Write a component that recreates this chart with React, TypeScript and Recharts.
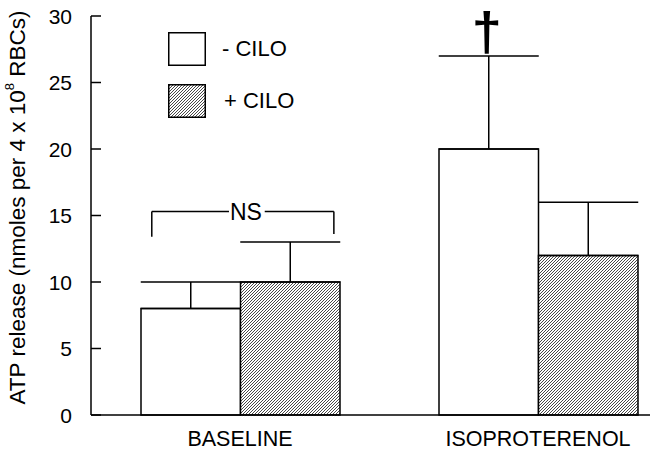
import React from 'react';
import { BarChart, Bar, XAxis, YAxis, ErrorBar, Legend, ReferenceLine, ReferenceDot } from 'recharts';

const categories = ['BASELINE', 'ISOPROTERENOL'];
const seriesNames = ['- CILO', '+ CILO'];
const minusCilo = [8, 20];
const plusCilo = [10, 12];
const minusCiloErr = [2, 7];
const plusCiloErr = [3, 4];
const yTicks = [0, 5, 10, 15, 20, 25, 30];

// annotation positions: x as a fraction of the plot width (hidden numeric axis 0..1), y in data units
const nsBracket = { x1: 0.102, x2: 0.4075, gapL: 0.2315, gapR: 0.2915, y: 15.3, yDropL: 13.4, yDropR: 13.6, textX: 0.26 };
const dagger = { x: 0.664, y: 28.9 };

const FONT = '"Liberation Sans", Arial, sans-serif';

const data = categories.map((c, i) => ({
  name: c,
  minus: minusCilo[i],
  plus: plusCilo[i],
  minusErr: [0, minusCiloErr[i]],
  plusErr: [0, plusCiloErr[i]],
}));

const YTick = (props: any) => {
  const { x, y, payload } = props;
  return (
    <g>
      <line x1={x} y1={y} x2={x + 10} y2={y} stroke="#000" strokeWidth={1.5} />
      <text x={x - 19} y={y} textAnchor="end" dominantBaseline="central" fontSize={21} fontFamily={FONT} fill="#000">
        {payload.value}
      </text>
    </g>
  );
};

const YLabel = (props: any) => {
  const vb = props.viewBox || { x: 0, y: 16, width: 91, height: 399 };
  const cx = 17;
  const cy = vb.y + vb.height / 2 - 8;
  return (
    <text x={cx} y={cy} transform={`rotate(-90, ${cx}, ${cy})`} textAnchor="middle" dominantBaseline="central" fontSize={22.5} fontFamily={FONT} fill="#000">
      ATP release (nmoles per 4 x 10<tspan dy={-8} fontSize={13}>8</tspan>
      <tspan dy={8}> RBCs)</tspan>
    </text>
  );
};

const LegendContent = () => (
  <div style={{ fontFamily: FONT, fontSize: 22, color: '#000' }}>
    {seriesNames.map((n, i) => (
      <div key={n} style={{ display: 'flex', alignItems: 'center', height: 34, marginBottom: i === 0 ? 18 : 0 }}>
        <svg width={38} height={34} style={{ display: 'block' }}>
          <rect x={0.75} y={0.75} width={36.5} height={32.5} fill={i === 0 ? '#fff' : 'url(#hatch)'} stroke="#000" strokeWidth={1.5} />
        </svg>
        <span style={{ marginLeft: 16 + i * 2 }}>{n}</span>
      </div>
    ))}
  </div>
);

export default function App() {
  return (
    <div style={{ position: 'absolute', left: 0, top: 0, width: 654, height: 455, background: '#fff' }}>
      <div style={{ position: 'absolute', left: 0, top: 0, width: 650, height: 455, overflow: 'hidden' }}>
        <BarChart width={700} height={455} data={data} margin={{ top: 16, right: 13, left: 0, bottom: 0 }} barGap={0}>
          <defs>
            <pattern id="hatch" patternUnits="userSpaceOnUse" width="3" height="3">
              <rect width="3" height="3" fill="#fff" />
              <path d="M-0.75,0.75 L0.75,-0.75 M0,3 L3,0 M2.25,3.75 L3.75,2.25" stroke="#333" strokeWidth="0.9" />
            </pattern>
          </defs>
          <XAxis
            dataKey="name"
            height={40}
            axisLine={{ stroke: '#000', strokeWidth: 1.5 }}
            tickLine={false}
            tickSize={0}
            tickMargin={16}
            tick={{ fill: '#000', fontSize: 21.5, fontFamily: FONT }}
          />
          <XAxis xAxisId="num" type="number" domain={[0, 1]} allowDataOverflow hide />
          <YAxis
            domain={[0, 30]}
            ticks={yTicks}
            width={91}
            tickLine={false}
            tickSize={0}
            tickMargin={0}
            tick={<YTick />}
            axisLine={{ stroke: '#000', strokeWidth: 1.5 }}
            label={<YLabel />}
          />
          <Legend
            content={<LegendContent />}
            layout="vertical"
            align="center"
            verticalAlign="middle"
            wrapperStyle={{ position: 'absolute', left: 168, top: 32, width: 'auto' }}
          />
          <Bar dataKey="minus" name={seriesNames[0]} fill="#fff" stroke="#000" strokeWidth={1.5} barSize={99.5} isAnimationActive={false}>
            <ErrorBar dataKey="minusErr" width={50} stroke="#000" strokeWidth={1.5} direction="y" />
          </Bar>
          <Bar dataKey="plus" name={seriesNames[1]} fill="url(#hatch)" stroke="#000" strokeWidth={1.5} barSize={99.5} isAnimationActive={false}>
            <ErrorBar dataKey="plusErr" width={50} stroke="#000" strokeWidth={1.5} direction="y" />
          </Bar>
          <ReferenceLine xAxisId="num" segment={[{ x: nsBracket.x1, y: nsBracket.y }, { x: nsBracket.gapL, y: nsBracket.y }]} stroke="#000" strokeWidth={1.5} />
          <ReferenceLine xAxisId="num" segment={[{ x: nsBracket.gapR, y: nsBracket.y }, { x: nsBracket.x2, y: nsBracket.y }]} stroke="#000" strokeWidth={1.5} />
          <ReferenceLine xAxisId="num" segment={[{ x: nsBracket.x1, y: nsBracket.y }, { x: nsBracket.x1, y: nsBracket.yDropL }]} stroke="#000" strokeWidth={1.5} />
          <ReferenceLine xAxisId="num" segment={[{ x: nsBracket.x2, y: nsBracket.y }, { x: nsBracket.x2, y: nsBracket.yDropR }]} stroke="#000" strokeWidth={1.5} />
          <ReferenceDot
            xAxisId="num"
            x={nsBracket.textX}
            y={nsBracket.y}
            r={0}
            shape={(p: any) => (
              <text x={p.cx} y={p.cy} textAnchor="middle" dominantBaseline="central" fontSize={23} fontFamily={FONT} fill="#000">NS</text>
            )}
          />
          <ReferenceDot
            xAxisId="num"
            x={dagger.x}
            y={dagger.y}
            r={0}
            shape={(p: any) => (
              <text x={p.cx} y={p.cy} textAnchor="middle" dominantBaseline="central" fontSize={54} fontWeight="bold" fontFamily={FONT} fill="#000">†</text>
            )}
          />
        </BarChart>
      </div>
    </div>
  );
}
